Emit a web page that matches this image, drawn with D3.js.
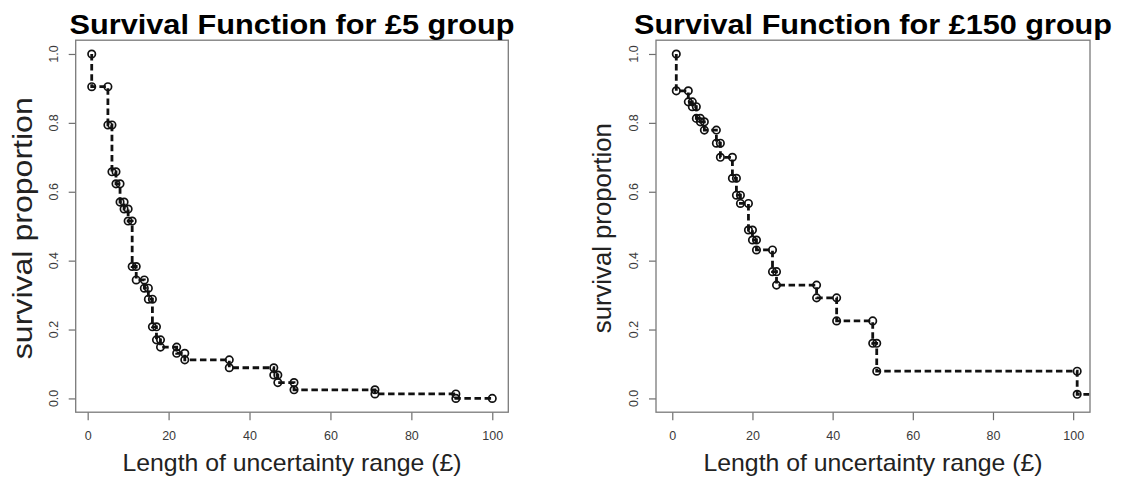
<!DOCTYPE html>
<html>
<head>
<meta charset="utf-8">
<script src="https://cdn.jsdelivr.net/npm/d3@7/dist/d3.min.js"></script>
<style>
  html, body { margin: 0; padding: 0; background: #fff; }
  svg { display: block; font-family: "Liberation Sans", Arial, sans-serif; }
</style>
</head>
<body>
<svg id="chart" width="1124" height="480"></svg>
<script>
// ---------- data ----------
const titles = ["Survival Function for £5 group", "Survival Function for £150 group"];
const xAxisLabel = "Length of uncertainty range (£)";
const yAxisLabel = "survival proportion";
const xTicks = [0, 20, 40, 60, 80, 100];
const yTicks = [0, 0.2, 0.4, 0.6, 0.8, 1.0];
const yTickLabels = ["0.0", "0.2", "0.4", "0.6", "0.8", "1.0"];

// £5 group: event times and survival proportion after each step
const leftTimes = [1, 5, 6, 7, 8, 9, 10, 11, 12, 14, 15, 16, 17, 18, 22, 24, 35, 46, 47, 51, 71, 91];
const leftSurv  = [0.905, 0.794, 0.658, 0.623, 0.570, 0.550, 0.515, 0.383, 0.344, 0.320, 0.288,
                   0.208, 0.170, 0.149, 0.131, 0.112, 0.089, 0.068, 0.046, 0.025, 0.013, 0.0];
const leftEndTime = 100;

// £150 group
const rightTimes = [1, 4, 5, 6, 7, 8, 11, 12, 15, 16, 17, 19, 20, 21, 25, 26, 36, 41, 50, 51, 101];
const rightSurv  = [0.893, 0.861, 0.847, 0.813, 0.803, 0.779, 0.741, 0.700, 0.639, 0.590, 0.566,
                    0.489, 0.460, 0.431, 0.368, 0.329, 0.292, 0.225, 0.160, 0.079, 0.012];
const rightEndTime = 104;

const leftXDomain = [-2.96, 103.96];
const rightXDomain = [-4.06, 104.2];
const yDomain = [-0.04, 1.04];

// ---------- layout ----------
const panels = [
  { title: titles[0], times: leftTimes, surv: leftSurv, end: leftEndTime, endMark: true,
    xDomain: leftXDomain, x0: 75.7, x1: 508.3, titleLen: 445, yLabSize: 27, yLabLen: 262, yLabOff: 44 },
  { title: titles[1], times: rightTimes, surv: rightSurv, end: rightEndTime, endMark: false,
    xDomain: rightXDomain, x0: 656, x1: 1090, titleLen: 478, yLabSize: 25, yLabLen: 210, yLabOff: 45 }
];
const yTop = 40.2, yBot = 412.2;

const svg = d3.select("#chart");

panels.forEach((p, pi) => {
  const x = d3.scaleLinear().domain(p.xDomain).range([p.x0, p.x1]);
  const y = d3.scaleLinear().domain(yDomain).range([yBot, yTop]);
  const g = svg.append("g");
  const cx = (p.x0 + p.x1) / 2, cy = (yTop + yBot) / 2;

  const clipId = "clip" + pi;
  svg.append("clipPath").attr("id", clipId)
    .append("rect").attr("x", p.x0).attr("y", yTop).attr("width", p.x1 - p.x0).attr("height", yBot - yTop);

  // x axis
  const xAxis = d3.axisBottom(x).tickValues(xTicks).tickSize(8).tickPadding(11).tickFormat(d3.format("d"));
  const gx = g.append("g").attr("transform", `translate(0,${yBot})`).call(xAxis);
  gx.select(".domain").remove();
  gx.selectAll(".tick line").attr("stroke", "#6e6e6e").attr("stroke-width", 1.2);
  gx.selectAll(".tick text").attr("fill", "#3a3a3a").style("font-size", "12.5px")
    .style("font-family", "Liberation Sans, Arial, sans-serif");

  // y axis
  const yAxis = d3.axisLeft(y).tickValues(yTicks).tickSize(7).tickFormat("");
  const gy = g.append("g").attr("transform", `translate(${p.x0},0)`).call(yAxis);
  gy.select(".domain").remove();
  gy.selectAll(".tick line").attr("stroke", "#6e6e6e").attr("stroke-width", 1.2);
  g.selectAll(".ylab").data(yTicks).enter().append("text")
    .attr("class", "ylab")
    .attr("transform", d => `translate(${p.x0 - 18},${y(d)}) rotate(-90)`)
    .attr("text-anchor", "middle")
    .attr("fill", "#3a3a3a")
    .style("font-size", "12.5px")
    .text((d, i) => yTickLabels[i]);

  // box
  g.append("rect").attr("x", p.x0).attr("y", yTop).attr("width", p.x1 - p.x0).attr("height", yBot - yTop)
    .attr("fill", "none").attr("stroke", "#7a7a7a").attr("stroke-width", 1.3);

  // step line
  const pts = [{ t: p.times[0], s: 1 }];
  p.times.forEach((t, i) => pts.push({ t: t, s: p.surv[i] }));
  pts.push({ t: p.end, s: p.surv[p.surv.length - 1] });
  const line = d3.line().x(d => x(d.t)).y(d => y(d.s)).curve(d3.curveStepAfter);
  g.append("path").attr("d", line(pts)).attr("clip-path", `url(#${clipId})`)
    .attr("fill", "none").attr("stroke", "#111").attr("stroke-width", 2.8)
    .attr("stroke-dasharray", "6.5,3.6");

  // marks at each step corner
  const marks = [];
  let prev = 1;
  p.times.forEach((t, i) => {
    marks.push({ t: t, s: prev });
    marks.push({ t: t, s: p.surv[i] });
    prev = p.surv[i];
  });
  if (p.endMark) marks.push({ t: p.end, s: prev });
  g.selectAll(".mk").data(marks).enter().append("circle")
    .attr("class", "mk")
    .attr("cx", d => x(d.t)).attr("cy", d => y(d.s)).attr("r", 3.7)
    .attr("fill", "none").attr("stroke", "#111").attr("stroke-width", 1.7);

  // title
  g.append("text").attr("x", cx).attr("y", 34).attr("text-anchor", "middle")
    .attr("fill", "#000").style("font-size", "28px").style("font-weight", "bold")
    .attr("textLength", p.titleLen).attr("lengthAdjust", "spacingAndGlyphs")
    .text(p.title);

  // x label
  g.append("text").attr("x", cx).attr("y", 471).attr("text-anchor", "middle")
    .attr("fill", "#222").style("font-size", "24px")
    .attr("textLength", 339).attr("lengthAdjust", "spacingAndGlyphs")
    .text(xAxisLabel);

  // y label
  g.append("text").attr("transform", `translate(${p.x0 - p.yLabOff},${cy + 2}) rotate(-90)`)
    .attr("text-anchor", "middle").attr("fill", "#222").style("font-size", p.yLabSize + "px")
    .attr("textLength", p.yLabLen).attr("lengthAdjust", "spacingAndGlyphs")
    .text(yAxisLabel);
});
</script>
</body>
</html>
